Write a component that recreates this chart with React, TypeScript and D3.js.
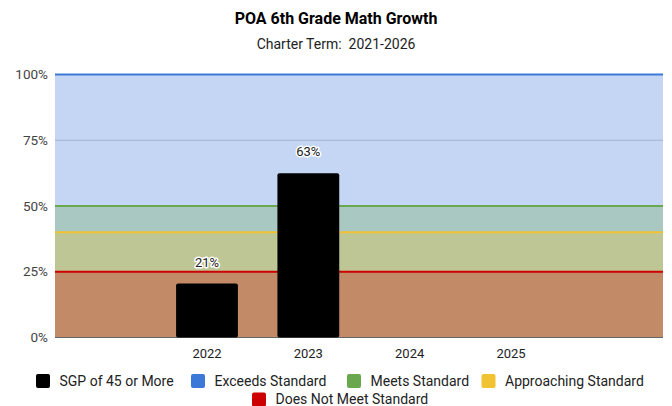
import React, { useEffect, useRef } from 'react';
import * as d3 from 'd3';

const years = ['2021', '2022', '2023', '2024', '2025', '2026'];
const tickLabels = ['', '2022', '2023', '2024', '2025', ''];
const sgpValues: (number | null)[] = [null, 0.205, 0.625, null, null, null];

const bandNames = ['Exceeds Standard', 'Meets Standard', 'Approaching Standard', 'Does Not Meet Standard'];
const bandLevels = [1, 0.5, 0.4, 0.25];
const bandColors = ['#3c78d8', '#6aa84f', '#f1c232', '#cc0000'];

const yTicks = [0, 0.25, 0.5, 0.75, 1];

const width = 672;
const height = 406;
const margin = { top: 74.5, right: 9, bottom: 68.5, left: 55 };
const font = 'Roboto, sans-serif';

function App() {
  const ref = useRef<SVGSVGElement>(null);

  useEffect(() => {
    const svg = d3.select(ref.current);
    svg.selectAll('*').remove();

    const x = d3
      .scaleBand()
      .domain(years)
      .range([margin.left, width - margin.right])
      .paddingInner(0.39)
      .paddingOuter(0.195);

    const y = d3
      .scaleLinear()
      .domain([0, 1])
      .range([height - margin.bottom, margin.top]);

    // titles
    svg.append('text')
      .attr('x', width / 2).attr('y', 24)
      .attr('text-anchor', 'middle')
      .style('font-family', font).style('font-size', '16px').style('font-weight', 'bold')
      .style('fill', '#000')
      .text('POA 6th Grade Math Growth');

    svg.append('text')
      .attr('x', width / 2).attr('y', 49)
      .attr('text-anchor', 'middle')
      .style('font-family', font).style('font-size', '14px')
      .style('fill', '#222').style('white-space', 'pre')
      .text('Charter Term:  2021-2026');

    // gridlines
    svg.append('g')
      .selectAll('line')
      .data(yTicks)
      .enter()
      .append('line')
      .attr('x1', margin.left).attr('x2', width - margin.right)
      .attr('y1', (d) => y(d)).attr('y2', (d) => y(d))
      .style('stroke', '#ccc').style('stroke-width', 1);

    // overlapping standard areas
    const [x0, x1] = x.range();
    const area = d3.area<number>()
      .x((d) => d)
      .y0(y(0));

    bandLevels.forEach((lvl, i) => {
      svg.append('path')
        .datum([x0, x1])
        .attr('d', area.y1(y(lvl)))
        .style('fill', bandColors[i])
        .style('fill-opacity', 0.3);
    });
    bandLevels.forEach((lvl, i) => {
      svg.append('line')
        .attr('x1', x0).attr('x2', x1)
        .attr('y1', y(lvl)).attr('y2', y(lvl))
        .style('stroke', bandColors[i]).style('stroke-width', 2);
    });

    // baseline
    svg.append('line')
      .attr('x1', x0).attr('x2', x1)
      .attr('y1', y(0)).attr('y2', y(0))
      .style('stroke', '#666').style('stroke-width', 1);

    // bars
    const barData = years
      .map((yr, i) => ({ yr, v: sgpValues[i] }))
      .filter((d) => d.v !== null) as { yr: string; v: number }[];

    svg.append('g')
      .selectAll('rect')
      .data(barData)
      .enter()
      .append('rect')
      .attr('x', (d) => x(d.yr)!)
      .attr('width', x.bandwidth())
      .attr('y', (d) => y(d.v))
      .attr('height', (d) => y(0) - y(d.v))
      .attr('rx', 2)
      .style('fill', '#000');

    svg.append('g')
      .selectAll('text')
      .data(barData)
      .enter()
      .append('text')
      .attr('x', (d) => x(d.yr)! + x.bandwidth() / 2)
      .attr('y', (d) => y(d.v) - 17)
      .attr('text-anchor', 'middle')
      .style('font-family', font).style('font-size', '13px')
      .style('fill', '#222')
      .style('stroke', '#fff').style('stroke-width', 3).style('paint-order', 'stroke')
      .style('stroke-linejoin', 'round')
      .text((d) => `${Math.round(d.v * 100)}%`);

    // y axis labels
    svg.append('g')
      .selectAll('text')
      .data(yTicks)
      .enter()
      .append('text')
      .attr('x', margin.left - 7)
      .attr('y', (d) => y(d) + 4.5)
      .attr('text-anchor', 'end')
      .style('font-family', font).style('font-size', '13.5px')
      .style('fill', '#444')
      .text((d) => d3.format('.0%')(d));

    // x axis labels
    svg.append('g')
      .selectAll('text')
      .data(years)
      .enter()
      .append('text')
      .attr('x', (d) => x(d)! + x.bandwidth() / 2)
      .attr('y', height - margin.bottom + 20)
      .attr('text-anchor', 'middle')
      .style('font-family', font).style('font-size', '13px')
      .style('fill', '#222')
      .text((_, i) => tickLabels[i]);

    // legend
    const legendItems = [
      { name: 'SGP of 45 or More', color: '#000', x: 36, row: 0 },
      { name: bandNames[0], color: bandColors[0], x: 191, row: 0 },
      { name: bandNames[1], color: bandColors[1], x: 347, row: 0 },
      { name: bandNames[2], color: bandColors[2], x: 481.5, row: 0 },
      { name: bandNames[3], color: bandColors[3], x: 252, row: 1 },
    ];
    const lg = svg.append('g')
      .selectAll('g')
      .data(legendItems)
      .enter()
      .append('g')
      .attr('transform', (d) => `translate(${d.x}, ${374 + d.row * 18.5})`);
    lg.append('rect')
      .attr('width', 14).attr('height', 14).attr('rx', 2)
      .style('fill', (d) => d.color);
    lg.append('text')
      .attr('x', 23.5).attr('y', 11.5)
      .style('font-family', font).style('font-size', '14px')
      .style('fill', '#222')
      .text((d) => d.name);
  }, []);

  return (
    <svg
      ref={ref}
      width={width}
      height={height}
      style={{ position: 'absolute', left: 0, top: 0, background: '#fff' }}
    />
  );
}

export default App;
